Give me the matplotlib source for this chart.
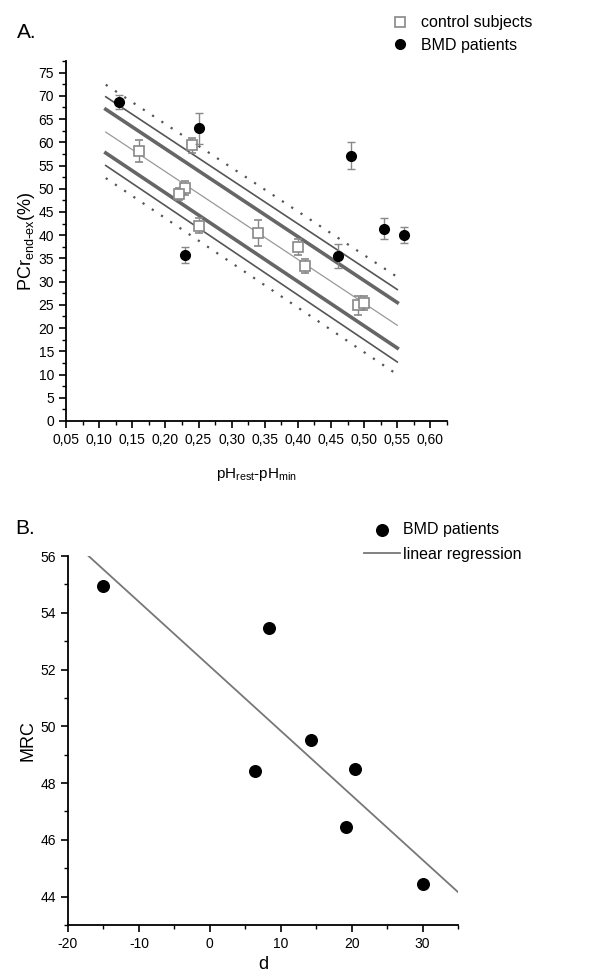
import matplotlib.pyplot as plt
from matplotlib.ticker import MultipleLocator, FuncFormatter

plt.rcParams['font.family'] = ['Liberation Sans', 'DejaVu Sans']
plt.rcParams['axes.unicode_minus'] = False

# -------------------------
# Panel A data
# -------------------------
ctrl_x = [0.16, 0.24, 0.23, 0.22, 0.25, 0.34, 0.40, 0.41, 0.49, 0.50]
ctrl_y = [58.1, 59.4, 50.1, 48.9, 42.0, 40.5, 37.5, 33.3, 24.9, 25.4]
ctrl_err = [2.4, 1.6, 1.5, 1.3, 1.6, 2.8, 1.7, 1.5, 2.0, 1.6]

bmd_x = [0.13, 0.25, 0.48, 0.23, 0.46, 0.53, 0.56]
bmd_y = [68.6, 63.0, 57.1, 35.8, 35.5, 41.4, 40.1]
bmd_err = [1.5, 3.3, 2.9, 1.7, 2.5, 2.2, 1.7]

# regression line and bands (values at x = 0.11 and 0.55)
fit_x = [0.11, 0.55]
fit_mid = [62.2, 20.6]
conf_up = [67.1, 25.5]
conf_lo = [57.7, 15.7]
outer_up = [69.8, 28.3]
outer_lo = [55.0, 12.7]
pred_up = [72.4, 31.0]
pred_lo = [52.3, 10.0]

# -------------------------
# Panel B data
# -------------------------
d_vals = [-15.0, 8.3, 6.4, 14.3, 20.5, 19.2, 30.0]
mrc_vals = [54.95, 53.45, 48.43, 49.52, 48.49, 46.45, 44.46]
reg_x = [-17.1, 35.0]
reg_y = [56.0, 44.16]

fig = plt.figure(figsize=(6.08, 9.74), dpi=100)

# ---- Panel A ----
axA = fig.add_axes([66/608, 1 - 421/974, (447-66)/608, (421-61)/974])
axA.plot(fit_x, pred_up, color='#555555', lw=1.6, ls=(0, (1, 4)))
axA.plot(fit_x, pred_lo, color='#555555', lw=1.6, ls=(0, (1, 4)))
axA.plot(fit_x, outer_up, color='#555555', lw=1.2)
axA.plot(fit_x, outer_lo, color='#555555', lw=1.2)
axA.plot(fit_x, conf_up, color='#666666', lw=2.6)
axA.plot(fit_x, conf_lo, color='#666666', lw=2.6)
axA.plot(fit_x, fit_mid, color='#999999', lw=0.9)

axA.errorbar(ctrl_x, ctrl_y, yerr=ctrl_err, fmt='s', ms=7, mfc='white', mec='#888888',
             mew=1.2, ecolor='#888888', elinewidth=1, capsize=3, label='control subjects', zorder=3)
axA.errorbar(bmd_x, bmd_y, yerr=bmd_err, fmt='o', ms=7, mfc='black', mec='black',
             ecolor='#888888', elinewidth=1, capsize=3, label='BMD patients', zorder=4)

axA.set_xlim(0.05, 0.625)
axA.set_ylim(0, 77.5)
axA.xaxis.set_major_locator(MultipleLocator(0.05))
axA.xaxis.set_minor_locator(MultipleLocator(0.025))
axA.yaxis.set_major_locator(MultipleLocator(5))
axA.yaxis.set_minor_locator(MultipleLocator(2.5))
axA.xaxis.set_major_formatter(FuncFormatter(lambda v, p: f"{v:.2f}".replace('.', ',')))
axA.set_ylabel(r'PCr$_{\mathregular{end\text{-}ex}}$(%)', fontsize=13, labelpad=1)
axA.set_xlabel(r'pH$_{\mathregular{rest}}$-pH$_{\mathregular{min}}$', fontsize=11, labelpad=14)

h, l = axA.get_legend_handles_labels()
h = [hh[0] for hh in h]
fig.legend(h, l, loc='upper left', bbox_to_anchor=(376/608, 1 - 1/974), frameon=False,
           fontsize=11.5, handletextpad=0.7, labelspacing=0.45, handlelength=1.2)
fig.text(17/608, 1 - 32/974, 'A.', fontsize=15, ha='left', va='center')

# ---- Panel B ----
axB = fig.add_axes([68/608, 1 - 925/974, (458-68)/608, (925-556)/974])
axB.scatter(d_vals, mrc_vals, s=70, color='black', label='BMD patients', zorder=3)
axB.plot(reg_x, reg_y, color='#777777', lw=1.3, label='linear regression')
axB.set_xlim(-20, 35)
axB.set_ylim(43, 56)
axB.xaxis.set_major_locator(MultipleLocator(10))
axB.xaxis.set_minor_locator(MultipleLocator(5))
axB.yaxis.set_major_locator(MultipleLocator(2))
axB.yaxis.set_minor_locator(MultipleLocator(1))
axB.set_xlabel('d', fontsize=13, labelpad=4)
axB.set_ylabel('MRC', fontsize=13, labelpad=3)
axB.legend(loc='upper left', bbox_to_anchor=(350/608, 1 - 508/974), bbox_transform=fig.transFigure,
           frameon=False, fontsize=11.5, handletextpad=0.2, labelspacing=0.6, handlelength=2.2)
fig.text(15/608, 1 - 528/974, 'B.', fontsize=15, ha='left', va='center')

for ax in (axA, axB):
    ax.spines['top'].set_visible(False)
    ax.spines['right'].set_visible(False)
    ax.spines['left'].set_linewidth(1.3)
    ax.spines['bottom'].set_linewidth(1.3)
    ax.tick_params(which='major', direction='out', length=5, width=1.2, labelsize=10)
    ax.tick_params(which='minor', direction='out', length=3, width=1.0)

fig.savefig('out.png', dpi=100)
